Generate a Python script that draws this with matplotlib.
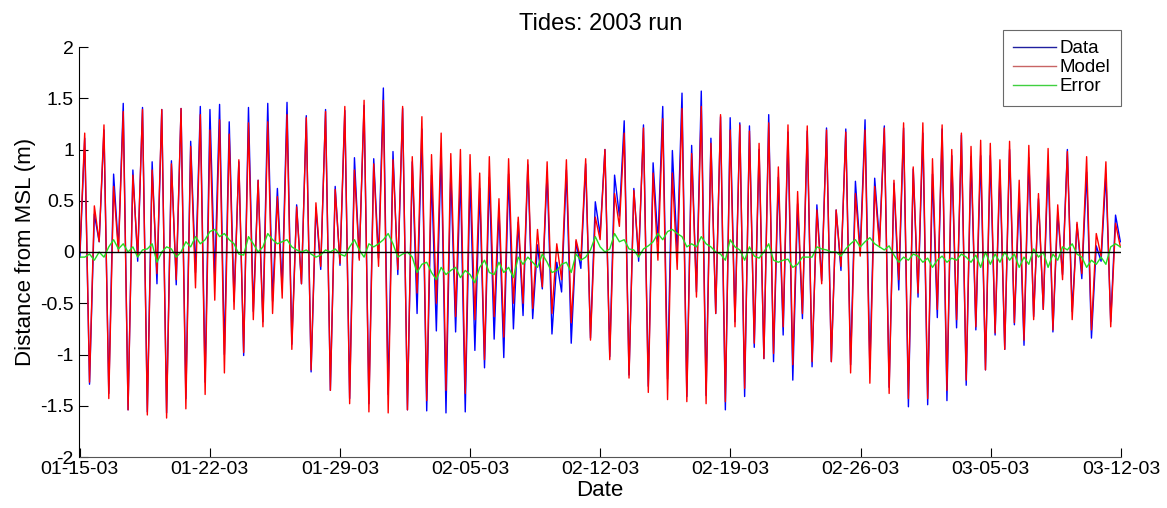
import numpy as np
import pandas as pd
import matplotlib
matplotlib.use('Agg')
import matplotlib.pyplot as plt
import matplotlib.dates as mdates

plt.rcParams['font.family'] = ['Liberation Sans', 'DejaVu Sans']

# Model water level (m) at successive high / low waters
# in seven ~8 day blocks (alternating high, low, high, low ...)
model_a = [1.16, -1.27, 0.45, 0.10, 1.24, -1.43, 0.64, 0.00, 1.37, -1.54,
           0.75, -0.04, 1.39, -1.59, 0.80, -0.21, 1.39, -1.62, 0.86, -0.27,
           1.40, -1.53, 1.03, -0.35, 1.34, -1.39, 1.19, -0.47, 1.29, -1.18]
model_b = [1.15, -0.56, 0.90, -0.98, 1.26, -0.66, 0.70, -0.73, 1.27, -0.60,
           0.54, -0.45, 1.34, -0.95, 0.44, -0.31, 1.31, -1.15, 0.48, -0.14,
           1.37, -1.35, 0.61, -0.11, 1.42, -1.48, 0.80, -0.08, 1.48, -1.56]
model_c = [0.86, -0.14, 1.48, -1.57, 0.90, -0.17, 1.42, -1.54, 0.93, -0.40,
           1.32, -1.45, 0.95, -0.50, 1.16, -1.35, 0.96, -0.63, 1.00, -1.38,
           0.95, -0.66, 0.77, -1.05, 0.93, -0.63, 0.52, -0.83, 0.91, -0.50,
           0.34, -0.50]
model_d = [0.90, -0.55, 0.22, -0.34, 0.88, -0.60, 0.08, -0.27, 0.90, -0.69,
           0.12, -0.08, 0.91, -0.86, 0.34, 0.12, 1.00, -1.05, 0.57, 0.25,
           1.16, -1.23, 0.60, -0.04, 1.21, -1.37, 0.77, -0.08, 1.30, -1.44]
model_e = [0.77, -0.17, 1.40, -1.46, 0.96, -0.44, 1.42, -1.48, 1.06, -0.60,
           1.34, -1.46, 1.19, -0.73, 1.24, -1.33, 1.18, -0.89, 1.06, -1.04,
           1.26, -0.99, 0.83, -0.73, 1.24, -1.10, 0.59, -0.60, 1.23, -1.07,
           0.41]
model_f = [-0.31, 1.19, -1.07, 0.41, -0.14, 1.17, -1.18, 0.57, -0.04, 1.19,
           -1.28, 0.64, 0.05, 1.21, -1.38, 0.70, -0.27, 1.26, -1.43, 0.83,
           -0.40, 1.26, -1.43, 0.91, -0.56, 1.24, -1.35, 1.00, -0.66, 1.16,
           -1.25]
model_g = [1.03, -0.73, 1.09, -1.15, 1.06, -0.79, 0.90, -0.95, 1.08, -0.69,
           0.70, -0.86, 1.04, -0.66, 0.57, -0.56, 1.01, -0.76, 0.46, -0.27,
           0.98, -0.66, 0.29, -0.21, 0.93, -0.76, 0.18, -0.04, 0.88, -0.73,
           0.28]

# Error (data - model, m) at the same times
error_a = [-0.05, -0.02, -0.08, 0.00, -0.05, 0.05, 0.12, 0.03, 0.08, 0.00,
           0.05, -0.05, 0.02, 0.03, 0.08, -0.10, 0.00, 0.05, 0.03, -0.05,
           0.00, 0.10, 0.05, 0.15, 0.08, 0.12, 0.20, 0.22, 0.15, 0.18]
error_b = [0.12, 0.08, -0.02, -0.03, 0.15, 0.08, 0.00, 0.05, 0.18, 0.12,
           0.08, 0.10, 0.12, 0.05, 0.02, 0.00, 0.02, -0.02, -0.05, -0.03,
           0.02, 0.00, 0.03, -0.02, -0.04, 0.05, 0.12, 0.02, -0.05, 0.08]
error_c = [0.05, 0.08, 0.12, 0.18, 0.08, -0.05, -0.02, 0.00, -0.05, -0.20,
           -0.12, -0.10, -0.20, -0.27, -0.15, -0.22, -0.18, -0.15, -0.25, -0.18,
           -0.22, -0.30, -0.15, -0.08, -0.20, -0.22, -0.10, -0.20, -0.15, -0.25,
           -0.05, -0.12]
error_d = [-0.05, -0.10, -0.15, -0.02, -0.10, -0.20, -0.18, -0.12, -0.10, -0.20,
           -0.02, -0.08, -0.05, 0.02, 0.15, 0.05, 0.00, 0.03, 0.18, 0.10,
           0.12, 0.03, 0.02, -0.05, 0.03, 0.06, 0.10, 0.18, 0.12, 0.20]
error_e = [0.22, 0.18, 0.15, 0.05, 0.08, 0.05, 0.15, 0.08, 0.05, 0.00,
           -0.02, -0.08, 0.12, 0.05, 0.02, -0.08, 0.05, -0.04, -0.06, 0.00,
           0.08, -0.08, -0.10, -0.08, -0.07, -0.15, -0.12, -0.05, -0.05, -0.05,
           0.05]
error_f = [0.03, 0.02, 0.00, 0.00, -0.04, 0.03, 0.08, 0.12, 0.05, 0.10,
           0.14, 0.08, 0.05, 0.02, 0.06, -0.03, -0.10, -0.05, -0.08, -0.02,
           -0.04, -0.10, -0.06, -0.15, -0.08, -0.04, -0.10, -0.06, -0.08, -0.02,
           -0.05]
error_g = [-0.10, -0.03, -0.15, 0.00, -0.12, -0.02, -0.10, 0.00, -0.08, -0.02,
           -0.15, -0.05, -0.12, 0.03, -0.05, 0.00, -0.15, -0.02, -0.08, 0.05,
           0.02, 0.08, -0.02, -0.05, -0.15, -0.08, -0.12, -0.05, -0.12, 0.05,
           0.08]

start = pd.Timestamp('2003-01-15')
end = pd.Timestamp('2003-03-12')
first_extreme = 0.28   # days after start
half_cycle = 0.259     # days between high and low water

model = np.concatenate([[0.0], model_a, model_b, model_c, model_d,
                        model_e, model_f, model_g, [0.05]])
error = np.concatenate([[-0.05], error_a, error_b, error_c, error_d,
                        error_e, error_f, error_g, [0.05]])
data = model + error

days = first_extreme + half_cycle * (np.arange(len(model)) - 1)
times = start + pd.to_timedelta(days, unit='D')

fig = plt.figure(figsize=(11.67, 5.08), dpi=100)
ax = fig.add_axes([79.5/1167, 1 - 457/508, (1121 - 79.5)/1167, 410/508])

ax.plot(times, data, color='#0000ff', lw=1.0, label='Data')
ax.plot(times, model, color='#ff0000', lw=1.0, label='Model')
ax.plot(times, error, color='#22dd22', lw=1.0, label='Error')
ax.axhline(0, color='black', lw=1.0, zorder=5)

ax.set_xlim(start, end)
ax.set_ylim(-2, 2)
ax.set_yticks(np.arange(-2, 2.01, 0.5))
ax.set_yticklabels(['-2', '-1.5', '-1', '-0.5', '0', '0.5', '1', '1.5', '2'])
ax.set_xticks(pd.date_range(start, end, freq='7D'))
ax.xaxis.set_major_formatter(mdates.DateFormatter('%m-%d-%y'))

ax.spines['top'].set_visible(False)
ax.spines['right'].set_visible(False)
ax.spines['bottom'].set_color('#555555')
ax.tick_params(direction='in', length=6.5, width=0.8, labelsize=14)
ax.tick_params(axis='x', pad=3)
ax.tick_params(axis='y', pad=4)

ax.set_title('Tides: 2003 run', fontsize=17, pad=12)
ax.set_xlabel('Date', fontsize=16, labelpad=1)
ax.set_ylabel('Distance from MSL (m)', fontsize=16, labelpad=3)

leg = ax.legend(loc='upper right', bbox_to_anchor=(1121/1167, 1 - 30/508),
                bbox_transform=fig.transFigure, fontsize=13.5, frameon=True,
                fancybox=False, edgecolor='#444444', borderaxespad=0,
                handlelength=2.3, handletextpad=0.2, labelspacing=0.1,
                borderpad=0.55)
leg.get_frame().set_linewidth(0.8)
leg.get_lines()[0].set_color('#2020a0')
leg.get_lines()[1].set_color('#c86464')
leg.get_lines()[2].set_color('#40d040')

fig.savefig('out.png', dpi=100)
